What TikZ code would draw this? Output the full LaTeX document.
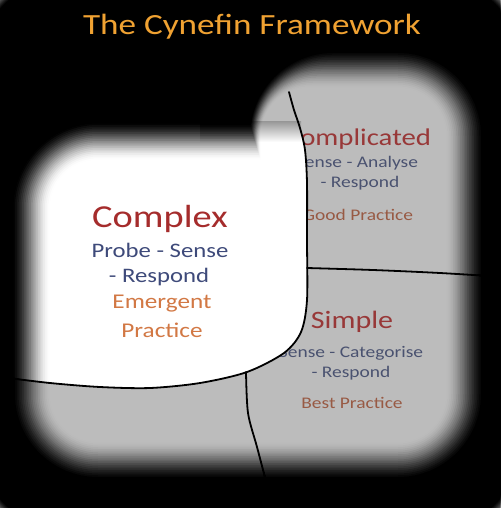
\documentclass[tikz,border=0pt]{standalone}
\usepackage{fontspec}
\setmainfont{Carlito}[FakeStretch=1.2]
\definecolor{titleor}{HTML}{F0A232}
\definecolor{panelgrey}{HTML}{BCBCBC}
\definecolor{cxred}{HTML}{A52C2C}
\definecolor{cxblue}{HTML}{3E4A7A}
\definecolor{cxorange}{HTML}{D27844}
\definecolor{gyred}{HTML}{983838}
\definecolor{gyblue}{HTML}{4A5270}
\definecolor{gybrown}{HTML}{985A44}
\tikzset{
  txt/.style={inner sep=0pt, anchor=base},
  divider/.style={draw=black, line width=1.8pt, line cap=round}
}
\begin{document}
\begin{tikzpicture}[x=1pt,y=-1pt]
\useasboundingbox (0,0) rectangle (500,508);
\fill[black] (0,0) rectangle (500,508);
\fill[panelgrey] (0,0) rectangle (500,508);
% grey panel texts
\node[txt, text=gyred, font=\fontsize{24}{28}\selectfont] (cmp) at (358,145) {Complicated};
\node[txt, text=gyblue, font=\fontsize{16.2}{19}\selectfont] (cmp1) at (357,167) {Sense - Analyse};
\node[txt, text=gyblue, font=\fontsize{16.2}{19}\selectfont] (cmp2) at (360,187) {- Respond};
\node[txt, text=gybrown, font=\fontsize{16.2}{19}\selectfont] (cmp3) at (358,220) {Good Practice};
\node[txt, text=gyred, font=\fontsize{25}{28}\selectfont] (smp) at (352,328) {Simple};
\node[txt, text=gyblue, font=\fontsize{16.2}{19}\selectfont] (smp1) at (351,357) {Sense - Categorise};
\node[txt, text=gyblue, font=\fontsize{16.2}{19}\selectfont] (smp2) at (351,377) {- Respond};
\node[txt, text=gybrown, font=\fontsize{16.2}{19}\selectfont] (smp3) at (352,408) {Best Practice};
% white complex panel
\fill[white] (-10,122) -- (296,122) -- plot[smooth] coordinates {(300,128) (305,150) (307,183) (307,240) (307,300) (301,332) (284,353) (247,372) (200,383) (150,388) (100,387) (50,383) (0,377) (-10,376)} -- cycle;
\shade[top color=panelgrey!80!black, bottom color=white] (200,121) rectangle (301,142);
% dividers
\draw[divider] plot[smooth] coordinates {(289,92) (294,110) (300,128) (305,150) (307,183) (307,240) (307,300) (301,332) (284,353) (247,372) (200,383) (150,388) (100,387) (50,383) (0,377) (-10,376)};
\draw[divider] plot[smooth] coordinates {(307,268) (373,270) (440,273) (505,277)};
\draw[divider] plot[smooth] coordinates {(246,372) (248,413) (257,447) (267,485)};
% complex texts
\node[txt, text=cxred, font=\fontsize{32}{36}\selectfont] (cx) at (160,227) {Complex};
\node[txt, text=cxblue, font=\fontsize{20.6}{24}\selectfont] (cx1) at (160,257) {Probe - Sense};
\node[txt, text=cxblue, font=\fontsize{20.6}{24}\selectfont] (cx2) at (159,282) {- Respond};
\node[txt, text=cxorange, font=\fontsize{21}{24}\selectfont] (cx3) at (162,308) {Emergent};
\node[txt, text=cxorange, font=\fontsize{21}{24}\selectfont] (cx4) at (162,337) {Practice};
% vignette (smoothstep falloff)
\foreach \k in {1,...,24}{
  \pgfmathsetmacro\dd{42*\k/24}
  \pgfmathsetmacro\ua{(\k-1)/24}
  \pgfmathsetmacro\ub{\k/24}
  \pgfmathsetmacro\oo{1-(\ua*\ua*(3-2*\ua))/(\ub*\ub*(3-2*\ub))}
  \pgfmathsetmacro\rr{max(90-\dd,30)}
  \begin{scope}[even odd rule, rounded corners=\rr pt]
    \clip (-20,-20) rectangle (520,528) (248+0.3*\dd,46+\dd) rectangle (488-\dd,484-\dd);
    \fill[black, opacity=\oo] (-20,-20) rectangle (520,528) (8+\dd,118+\dd) rectangle (488-\dd,484-\dd);
  \end{scope}
}
% title
\node[txt, text=titleor, font=\fontsize{29.3}{34}\selectfont] (title) at (252,35) {The Cynefin Framework};
\end{tikzpicture}
\end{document}
